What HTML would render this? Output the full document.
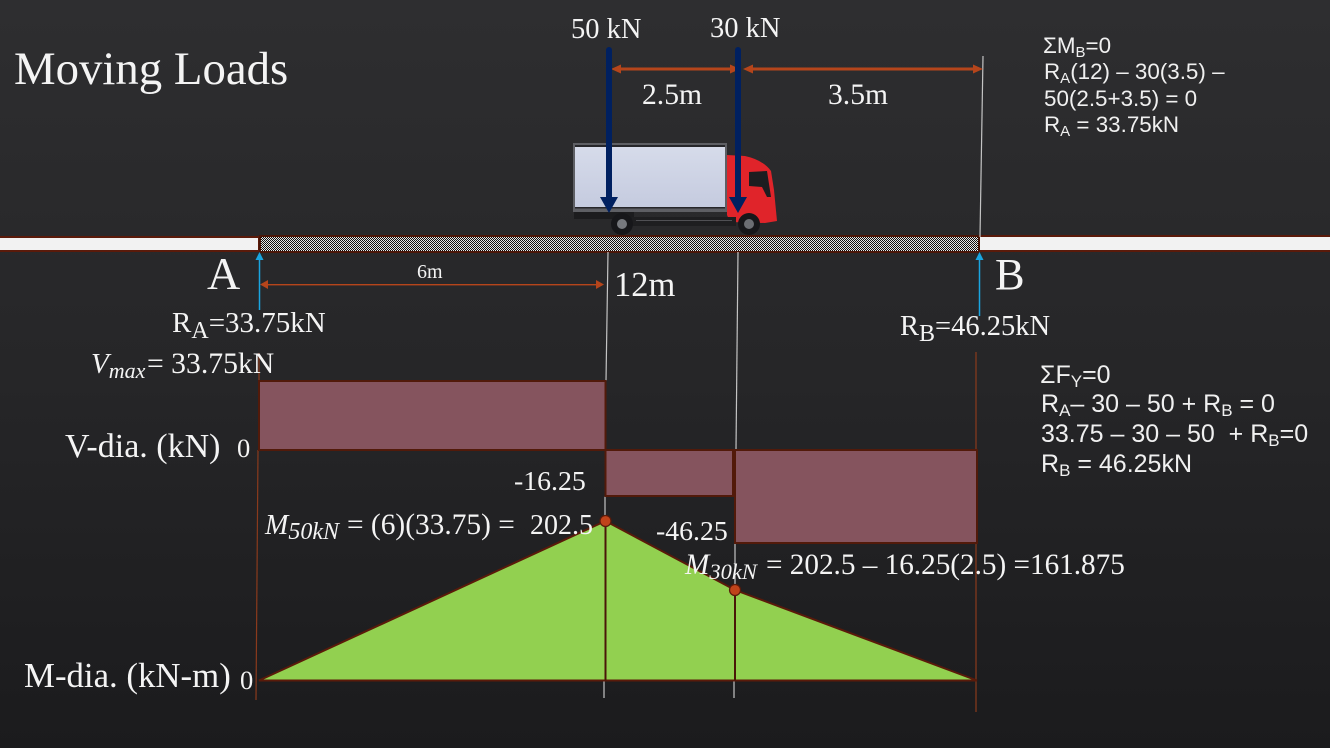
<!DOCTYPE html>
<html lang="en">
<head>
<meta charset="utf-8">
<title>Moving Loads</title>
<style>
html,body{margin:0;padding:0;background:#232325;width:1330px;height:748px;overflow:hidden}
svg{display:block}
text{white-space:pre}
.s{font-family:"Liberation Serif",serif;fill:#f4f4f4}
.a{font-family:"Liberation Sans",sans-serif;fill:#f0f0f0;font-size:22.4px}
.b{font-family:"Liberation Sans",sans-serif;fill:#f0f0f0;font-size:25px}
.i{font-style:italic}
</style>
</head>
<body>
<svg id="chart" xmlns="http://www.w3.org/2000/svg" width="1330" height="748" viewBox="0 0 1330 748">
<defs>
<linearGradient id="bg" x1="0" y1="0" x2="0" y2="1">
<stop offset="0" stop-color="#2e2e30"/><stop offset=".5" stop-color="#262628"/><stop offset="1" stop-color="#1b1b1d"/>
</linearGradient>
<pattern id="checker" width="2" height="2" patternUnits="userSpaceOnUse">
<rect width="2" height="2" fill="#e8e8e8"/><rect width="1" height="1" fill="#111"/><rect x="1" y="1" width="1" height="1" fill="#111"/>
</pattern>
<linearGradient id="cargo" x1="0" y1="0" x2="0" y2="1">
<stop offset="0" stop-color="#d6dbea"/><stop offset="1" stop-color="#c5cbdf"/>
</linearGradient>
</defs>
<rect width="1330" height="748" fill="url(#bg)"/>

<text class="s" x="14" y="84" font-size="46.8">Moving Loads</text>

<g>
<path d="M727 155 L745 156 Q763 160 771 171 L774 190 L777 221 L765 223 L730 222 L727 215 Z" fill="#e0242a"/>
<path d="M749 172 L767 171 L771 197 L767 197 L762 187 L749 186 Z" fill="#1d1d20"/>
<rect x="574" y="212" width="60" height="7" fill="#1c1c1e"/>
<rect x="632" y="217" width="104" height="9" fill="#1e1e20"/>
<rect x="636" y="220" width="96" height="1" fill="#505054"/>
<rect x="573" y="143" width="154" height="69" fill="#5e5f64"/>
<rect x="575" y="147" width="150" height="60" fill="url(#cargo)"/>
<rect x="575" y="145" width="150" height="2" fill="#26262a"/>
<rect x="575" y="207" width="150" height="1.500" fill="#26262a"/>
<circle cx="622" cy="224" r="11" fill="#17171a"/>
<circle cx="622" cy="224" r="5" fill="#77797e"/>
<circle cx="749" cy="224" r="11" fill="#17171a"/>
<circle cx="749" cy="224" r="5" fill="#6c6e73"/>
</g>

<rect x="-3" y="237" width="262" height="14" fill="#f2f2f2" stroke="#5a1a0a" stroke-width="2"/>
<rect x="979" y="236" width="354" height="15" fill="#f2f2f2" stroke="#5a1a0a" stroke-width="2"/>
<rect x="260" y="236" width="719" height="16" fill="url(#checker)" stroke="#4a1608" stroke-width="2"/>

<g id="guides" fill="none">
<line x1="983" y1="56" x2="980" y2="237" stroke="#c4c4c4" stroke-width="1.2"/>
<line x1="608" y1="252" x2="606" y2="381" stroke="#c4c4c4" stroke-width="1.2"/>
<line x1="738" y1="252" x2="736" y2="450" stroke="#c4c4c4" stroke-width="1.2"/>
<line x1="605" y1="496" x2="605" y2="521" stroke="#c4c4c4" stroke-width="1.2"/>
<line x1="735" y1="543" x2="735" y2="585" stroke="#c4c4c4" stroke-width="1.2"/>
<line x1="604" y1="680" x2="604" y2="698" stroke="#c4c4c4" stroke-width="1.2"/>
<line x1="734" y1="680" x2="734" y2="698" stroke="#c4c4c4" stroke-width="1.2"/>
<line x1="259" y1="353" x2="259" y2="381" stroke="#8a3a1c" stroke-width="1.2"/>
<line x1="258" y1="450" x2="256" y2="700" stroke="#8a3a1c" stroke-width="1.2"/>
<line x1="976" y1="352" x2="976" y2="712" stroke="#8a3a1c" stroke-width="1.2"/>
</g>

<g id="shear-layer"></g>
<g id="moment-layer"></g>

<g fill="#b5451b">
<rect x="616" y="67.500" width="118" height="3"/><path d="M611 69 L621 64.500 L621 73.500 Z"/><path d="M740 69 L730 64.500 L730 73.500 Z"/>
</g>
<g fill="#b5451b">
<rect x="748" y="67.500" width="230" height="3"/><path d="M743 69 L753 64.500 L753 73.500 Z"/><path d="M983 69 L973 64.500 L973 73.500 Z"/>
</g>
<g fill="#b5451b">
<rect x="265" y="284" width="335" height="1.400"/><path d="M260 284.500 L268 280 L268 289 Z"/><path d="M604 284.500 L596 280 L596 289 Z"/>
</g>

<g fill="#002060">
<rect x="606" y="47" width="6" height="155" rx="3"/><path d="M600 197 L618 197 L609 213 Z"/>
</g>
<g fill="#002060">
<rect x="735" y="47" width="6" height="155" rx="3"/><path d="M729 197 L747 197 L738 213 Z"/>
</g>

<g>
<line x1="259.500" y1="310" x2="259.500" y2="258" stroke="#1aa5e0" stroke-width="1.500"/><path d="M255.500 260 L263.500 260 L259.500 252 Z" fill="#1aa5e0"/>
</g>
<g>
<line x1="979.500" y1="316" x2="979.500" y2="258" stroke="#1aa5e0" stroke-width="1.500"/><path d="M975.500 260 L983.500 260 L979.500 252 Z" fill="#1aa5e0"/>
</g>

<text class="s" x="571" y="38" font-size="28.500">50 kN</text>
<text class="s" x="710" y="37" font-size="28.500">30 kN</text>
<text class="s" x="642" y="104" font-size="29.600">2.5m</text>
<text class="s" x="828" y="104" font-size="29.600">3.5m</text>
<text class="s" x="207" y="289" font-size="46">A</text>
<text class="s" x="995" y="289" font-size="44.400">B</text>
<text class="s" x="417" y="278" font-size="20">6m</text>
<text class="s" x="614" y="296" font-size="34.500">12m</text>

<text class="s" x="172" y="332" font-size="29">R<tspan font-size="24" dy="6">A</tspan><tspan dy="-6">=33.75kN</tspan></text>
<text class="s" x="900" y="335" font-size="28.500">R<tspan font-size="24" dy="6">B</tspan><tspan dy="-6">=46.25kN</tspan></text>
<text class="s" y="373" font-size="29.700"><tspan class="i" x="91" font-size="29">V</tspan><tspan class="i" font-size="22" dy="5">max</tspan><tspan x="147" dy="-5">= 33.75kN</tspan></text>

<text class="s" x="65" y="457" font-size="34">V-dia. (kN)</text>
<text class="s" x="237" y="457" font-size="26.500">0</text>
<text class="s" x="24" y="687" font-size="34.800">M-dia. (kN-m)</text>
<text class="s" x="240" y="689" font-size="26.500">0</text>

<text class="s" x="514" y="490" font-size="27.800">-16.25</text>
<text class="s" x="656" y="540" font-size="27.800">-46.25</text>
<text class="s" y="534" font-size="28"><tspan class="i" x="265">M</tspan><tspan class="i" font-size="24" dy="5">50kN</tspan><tspan x="347" dy="-5" font-size="29.400">= (6)(33.75) =</tspan><tspan x="530">202.5</tspan></text>
<text class="s" y="574" font-size="29.200"><tspan class="i" x="685">M</tspan><tspan class="i" font-size="22.500" dy="5">30kN</tspan><tspan x="766" dy="-5">= 202.5 – 16.25(2.5) =161.875</tspan></text>

<g>
<text class="a" x="1043" y="53">ΣM<tspan font-size="15" dy="4">B</tspan><tspan dy="-4">=0</tspan></text>
<text class="a" x="1044" y="79">R<tspan font-size="15" dy="4">A</tspan><tspan dy="-4">(12) – 30(3.5) –</tspan></text>
<text class="a" x="1044" y="106">50(2.5+3.5) = 0</text>
<text class="a" x="1044" y="132">R<tspan font-size="15" dy="4">A</tspan><tspan dy="-4"> = 33.75kN</tspan></text>
</g>
<g>
<text class="b" x="1040" y="383">ΣF<tspan font-size="17" dy="4">Y</tspan><tspan dy="-4">=0</tspan></text>
<text class="b" x="1041" y="412">R<tspan font-size="17" dy="4">A</tspan><tspan dy="-4">– 30 – 50 + R</tspan><tspan font-size="17" dy="4">B</tspan><tspan dy="-4"> = 0</tspan></text>
<text class="b" x="1041" y="442">33.75 – 30 – 50  + R<tspan font-size="17" dy="4">B</tspan><tspan dy="-4">=0</tspan></text>
<text class="b" x="1041" y="472">R<tspan font-size="17" dy="4">B</tspan><tspan dy="-4"> = 46.25kN</tspan></text>
</g>
</svg>
<script>
// Chart data
var stations = [0, 6, 8.5, 12];              // metres along the span
var shearValues = [33.75, -16.25, -46.25];   // kN in each segment
var momentValues = [0, 202.5, 161.875, 0];   // kN-m at each station
var markedStations = [6, 8.5];               // load points with moment markers
var markedMoments = [202.5, 161.875];

// The source drawing is not to scale, so each axis is piecewise linear.
function piecewise(domain, range) {
  return function (v) {
    var i = 0;
    while (i < domain.length - 2 && v > domain[i + 1]) i++;
    var t = (v - domain[i]) / (domain[i + 1] - domain[i]);
    return range[i] + t * (range[i + 1] - range[i]);
  };
}
var xAxis = piecewise([0, 6, 8.5, 12], [259, 605.5, 735, 977]);
var yShear = piecewise([-46.25, -16.25, 0, 33.75], [543, 496, 450, 381]);
var yMoment = piecewise([0, 161.875, 202.5], [680.5, 590, 521]);

var NS = 'http://www.w3.org/2000/svg';
function make(tag, parent, attrs) {
  var el = document.createElementNS(NS, tag);
  for (var k in attrs) el.setAttribute(k, attrs[k]);
  parent.appendChild(el);
  return el;
}

var shearLayer = document.getElementById('shear-layer');
shearValues.forEach(function (v, i) {
  var x0 = xAxis(stations[i]), x1 = xAxis(stations[i + 1]);
  var y0 = yShear(Math.max(v, 0)), y1 = yShear(Math.min(v, 0));
  var r = make('rect', shearLayer, {
    x: x0, y: y0, width: x1 - x0, height: y1 - y0,
    fill: '#85545e', stroke: '#521a0a', 'stroke-width': 2
  });
  
  
});
var shearDivider = make('line', shearLayer, {
  x1: xAxis(stations[2]) - 1, x2: xAxis(stations[2]) - 1,
  y1: yShear(0), y2: yShear(shearValues[1]),
  stroke: '#521a0a', 'stroke-width': 4
});



var momentLayer = document.getElementById('moment-layer');
var pts = stations.map(function (s, i) { return xAxis(s) + ',' + yMoment(momentValues[i]); }).join(' ');
var poly = make('polygon', momentLayer, {
  points: pts, fill: '#92d050', stroke: '#5a1a0a', 'stroke-width': 2
});



markedStations.forEach(function (s, i) {
  var l = make('line', momentLayer, {
    x1: xAxis(s), x2: xAxis(s), y1: yMoment(markedMoments[i]), y2: yMoment(0),
    stroke: '#4a1608', 'stroke-width': 2
  });
  
  
});
markedStations.forEach(function (s, i) {
  var c = make('circle', momentLayer, {
    cx: xAxis(s), cy: yMoment(markedMoments[i]), r: 5.5,
    fill: '#c0431a', stroke: '#5a1a0a', 'stroke-width': 1.2
  });
  
  
});
</script>
</body>
</html>
